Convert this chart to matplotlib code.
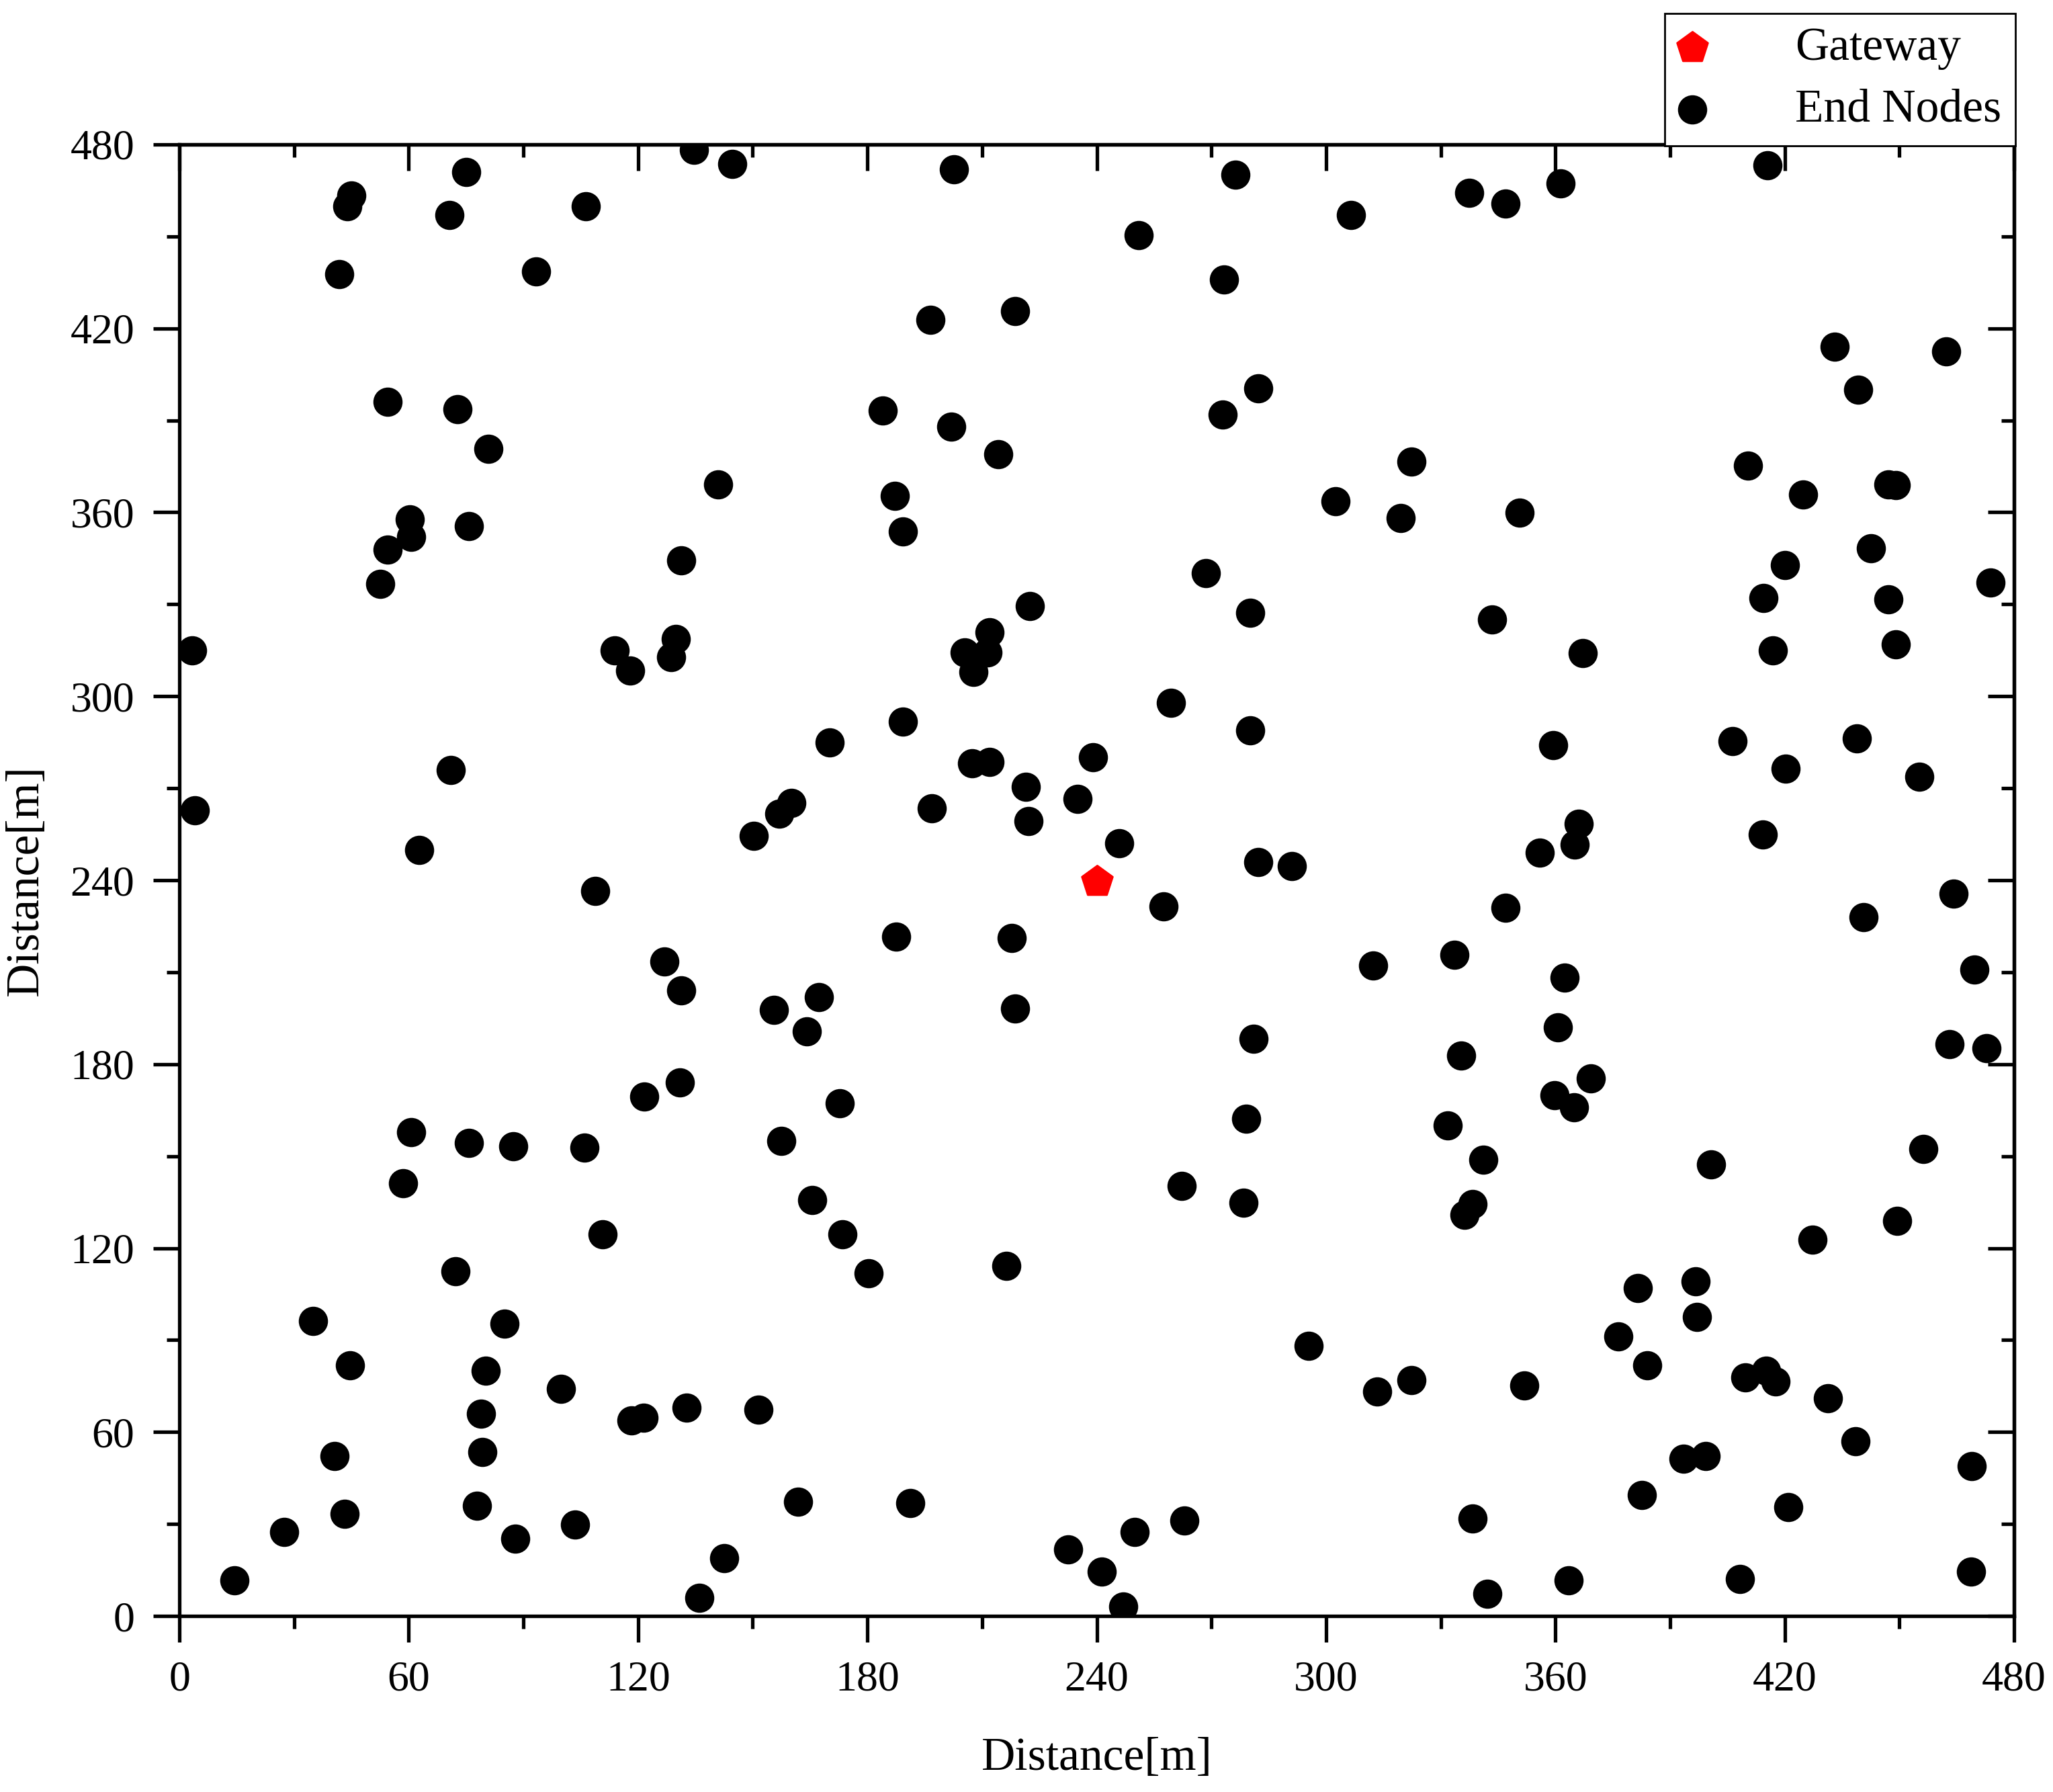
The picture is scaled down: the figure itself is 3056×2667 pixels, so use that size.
import matplotlib.pyplot as plt
from matplotlib.ticker import MultipleLocator

plt.rcParams["font.family"] = ["Liberation Serif", "DejaVu Serif"]

# Gateway position
gateway_x = [240.0]
gateway_y = [239.6]

# End node positions
node_x = [
    3.4, 4.1, 14.4, 27.4, 35.0, 40.5, 43.2, 44.6, 41.8, 43.9,
    44.9, 54.5, 54.5, 52.5, 60.3, 60.7, 62.7, 58.6, 60.7, 70.6,
    75.1, 72.7, 80.9, 75.8, 71.0, 72.3, 75.8, 87.4, 85.0, 80.2,
    78.9, 79.2, 77.8, 87.8, 93.3, 106.3, 99.8, 103.5, 105.9, 108.7,
    110.7, 113.8, 117.9, 118.3, 121.4, 121.7, 126.9, 128.6, 129.9, 131.3,
    131.3, 131.0, 132.7, 134.7, 136.1, 140.9, 142.6, 144.7, 150.2, 151.5,
    155.6, 157.0, 157.4, 160.1, 161.8, 164.2, 165.6, 167.3, 170.1, 173.5,
    172.8, 180.3, 184.1, 187.2, 189.3, 189.3, 187.5, 191.3, 196.5, 196.8,
    201.9, 202.6, 205.4, 207.7, 207.4, 211.9, 211.5, 211.9, 214.3, 218.7,
    217.7, 218.7, 216.3, 221.5, 222.5, 222.2, 232.5, 234.9, 239.0, 241.4,
    245.8, 246.9, 249.9, 251.0, 257.5, 259.5, 262.3, 263.0, 268.5, 272.9,
    273.3, 276.3, 278.4, 279.1, 280.1, 280.1, 281.1, 282.2, 282.2, 291.1,
    295.5, 302.4, 306.5, 312.3, 313.4, 319.5, 322.3, 322.3, 331.9, 333.6,
    335.3, 336.3, 338.4, 338.4, 337.4, 341.2, 342.2, 343.5, 346.9, 346.9,
    350.7, 351.8, 355.9, 359.4, 359.7, 360.7, 361.4, 362.4, 363.4, 364.8,
    365.1, 366.2, 367.2, 369.3, 376.5, 381.6, 382.6, 384.0, 393.6, 396.7,
    397.0, 399.4, 400.8, 406.3, 408.3, 409.7, 410.4, 414.2, 414.5, 415.2,
    415.5, 416.9, 417.6, 420.0, 420.3, 421.0, 424.8, 427.2, 431.3, 433.0,
    438.5, 438.9, 439.2, 440.6, 442.6, 447.1, 447.1, 449.1, 449.1, 449.5,
    455.3, 456.3, 462.2, 463.2, 464.2, 469.0, 468.7, 469.7, 472.8, 473.8,
]
node_y = [
    314.9, 262.7, 11.6, 27.4, 96.3, 52.2, 33.4, 81.7, 437.6, 459.9,
    463.3, 396.1, 347.8, 336.7, 357.6, 352.1, 249.8, 141.2, 157.9, 456.9,
    471.0, 393.6, 380.7, 355.5, 275.9, 112.5, 154.4, 153.2, 95.4, 80.0,
    65.9, 53.5, 35.9, 25.2, 438.5, 459.9, 74.0, 29.9, 152.7, 236.6,
    124.5, 314.9, 308.4, 63.7, 64.6, 169.4, 213.5, 312.7, 318.7, 344.4,
    204.1, 174.1, 68.0, 478.3, 6.0, 369.2, 18.8, 473.6, 254.5, 67.2,
    197.6, 261.8, 154.9, 265.2, 37.2, 190.8, 135.6, 201.9, 284.9, 124.5,
    167.3, 111.7, 393.2, 365.3, 353.8, 291.8, 221.6, 36.8, 422.7, 263.5,
    388.0, 471.9, 314.4, 308.0, 278.1, 320.9, 314.4, 278.5, 379.0, 425.7,
    221.2, 198.1, 114.2, 270.4, 329.4, 259.3, 21.8, 266.5, 280.2, 14.5,
    252.0, 3.0, 27.4, 450.5, 231.4, 297.8, 140.3, 31.2, 340.1, 391.9,
    435.9, 470.2, 134.8, 162.1, 327.3, 288.8, 188.2, 400.4, 246.0, 244.7,
    88.1, 363.6, 456.9, 212.2, 73.2, 358.1, 376.5, 77.0, 160.0, 215.6,
    182.7, 130.9, 134.3, 31.7, 464.2, 148.9, 7.3, 325.1, 460.7, 231.0,
    359.8, 75.3, 249.0, 284.1, 169.8, 192.1, 467.2, 208.3, 11.6, 166.0,
    251.6, 258.4, 314.0, 175.4, 91.1, 107.0, 39.4, 81.7, 51.3, 109.1,
    97.5, 52.2, 147.2, 285.3, 12.0, 77.9, 375.2, 255.0, 332.0, 80.0,
    473.2, 314.9, 76.6, 342.7, 276.4, 35.5, 365.8, 122.8, 71.0, 414.1,
    56.9, 286.2, 400.0, 228.0, 348.2, 331.6, 369.2, 368.8, 317.0, 128.8,
    273.8, 152.3, 412.4, 186.5, 235.7, 48.8, 14.5, 210.9, 185.2, 337.1,
]

fig = plt.figure(figsize=(15.28, 13.335), dpi=200)
ax = fig.add_axes([0.0874, 0.0982, 0.8936, 0.8212])

ax.scatter(gateway_x, gateway_y, s=300, marker="p", color="red", label="Gateway", zorder=3)
ax.scatter(node_x, node_y, s=215, marker="o", color="black", label="End Nodes", zorder=2)

ax.set_xlim(0, 480)
ax.set_ylim(0, 480)
ax.xaxis.set_major_locator(MultipleLocator(60))
ax.xaxis.set_minor_locator(MultipleLocator(30))
ax.yaxis.set_major_locator(MultipleLocator(60))
ax.yaxis.set_minor_locator(MultipleLocator(30))

for sp in ax.spines.values():
    sp.set_linewidth(1.9)

ax.tick_params(which="major", direction="out", length=14, width=1.9, labelsize=23, pad=10)
ax.tick_params(which="minor", direction="out", length=7, width=1.9)

# mirrored ticks on top/right pointing inward
top = ax.secondary_xaxis("top")
top.xaxis.set_major_locator(MultipleLocator(60))
top.xaxis.set_minor_locator(MultipleLocator(30))
top.tick_params(which="major", direction="in", length=14, width=1.9, labeltop=False)
top.tick_params(which="minor", direction="in", length=7, width=1.9)
right = ax.secondary_yaxis("right")
right.yaxis.set_major_locator(MultipleLocator(60))
right.yaxis.set_minor_locator(MultipleLocator(30))
right.tick_params(which="major", direction="in", length=14, width=1.9, labelright=False)
right.tick_params(which="minor", direction="in", length=7, width=1.9)
top.spines["top"].set_linewidth(1.9)
right.spines["right"].set_linewidth(1.9)

ax.set_xlabel("Distance[m]", fontsize=25, labelpad=20)
ax.set_ylabel("Distance[m]", fontsize=25, labelpad=12)

leg = ax.legend(loc="upper right", bbox_to_anchor=(0.9817, 0.9925), bbox_transform=fig.transFigure,
                borderaxespad=0, fontsize=25, frameon=True, fancybox=False, edgecolor="black",
                handlelength=0.6, handletextpad=1.9, borderpad=0.3, labelspacing=0.4)
leg.get_frame().set_linewidth(1.0)
leg.get_frame().set_alpha(1.0)

fig.savefig("out.png", dpi=200)
